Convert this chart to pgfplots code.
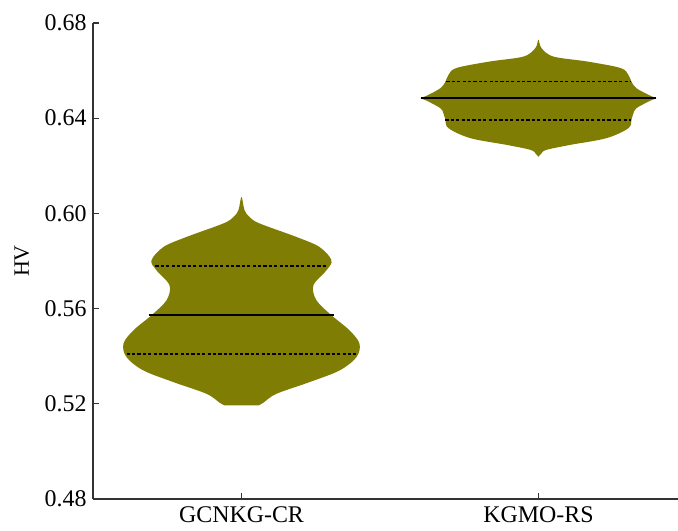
\documentclass[border=0pt]{standalone}
\usepackage{fontspec}
\setmainfont{Liberation Serif}
\usepackage{pgfplots}
\pgfplotsset{compat=1.18}
\usepackage{pgfplotstable}
\definecolor{violin}{RGB}{128,125,5}

% outline of each violin: s = side (+1 right, -1 left), w = half-width (x units), y = HV
\pgfplotstableread{
y s w
0.5193 1 0.0572
0.5205 1 0.0741
0.5242 1 0.1178
0.5291 1 0.2290
0.5340 1 0.3300
0.5396 1 0.3872
0.5453 1 0.3973
0.5509 1 0.3636
0.5572 1 0.3030
0.5635 1 0.2525
0.5698 1 0.2424
0.5761 1 0.2862
0.5803 1 0.3030
0.5859 1 0.2626
0.5901 1 0.1852
0.5958 1 0.0606
0.5985 1 0.0269
0.6014 1 0.0101
0.6070 1 0.0000
0.6014 -1 0.0101
0.5985 -1 0.0269
0.5958 -1 0.0606
0.5901 -1 0.1852
0.5859 -1 0.2626
0.5803 -1 0.3030
0.5761 -1 0.2862
0.5698 -1 0.2424
0.5635 -1 0.2525
0.5572 -1 0.3030
0.5509 -1 0.3636
0.5453 -1 0.3973
0.5396 -1 0.3872
0.5340 -1 0.3300
0.5291 -1 0.2290
0.5242 -1 0.1178
0.5205 -1 0.0741
0.5193 -1 0.0572
}\vA

\pgfplotstableread{
y s w
0.6238 1 0.0000
0.6252 1 0.0101
0.6267 1 0.0269
0.6288 1 0.1077
0.6316 1 0.2290
0.6358 1 0.3030
0.6393 1 0.3131
0.6420 1 0.3199
0.6442 1 0.3300
0.6474 1 0.3771
0.6484 1 0.3973
0.6494 1 0.3771
0.6526 1 0.3300
0.6554 1 0.3131
0.6582 1 0.3030
0.6611 1 0.2761
0.6638 1 0.1650
0.6659 1 0.0505
0.6695 1 0.0101
0.6730 1 0.0000
0.6695 -1 0.0101
0.6659 -1 0.0505
0.6638 -1 0.1650
0.6611 -1 0.2761
0.6582 -1 0.3030
0.6554 -1 0.3131
0.6526 -1 0.3300
0.6494 -1 0.3771
0.6484 -1 0.3973
0.6474 -1 0.3771
0.6442 -1 0.3300
0.6420 -1 0.3199
0.6393 -1 0.3131
0.6358 -1 0.3030
0.6316 -1 0.2290
0.6288 -1 0.1077
0.6267 -1 0.0269
0.6252 -1 0.0101
}\vB

\begin{document}
\begin{tikzpicture}
\begin{axis}[
  at={(0,0)}, anchor=origin,
  scale only axis,
  width=585bp, height=476bp,
  xmin=0.5, xmax=2.47,
  ymin=0.48, ymax=0.68,
  axis x line*=bottom, axis y line*=left,
  axis line style={black!80, line width=1.1bp},
  tick style={black!80, line width=1.1bp},
  tick align=inside,
  major tick length=6bp,
  xtick={1,2},
  xticklabels={GCNKG-CR,KGMO-RS},
  ytick={0.48,0.52,0.56,0.60,0.64,0.68},
  yticklabel style={/pgf/number format/fixed, /pgf/number format/fixed zerofill, /pgf/number format/precision=2, xshift=-3bp},
  /pgf/number format/assume math mode=true,
  ticklabel style={font=\fontsize{24}{26}\selectfont},
  xticklabel style={yshift=-4bp},
  ylabel={HV},
  ylabel style={font=\fontsize{22}{24}\selectfont, at={(axis description cs:-0.1214,0.5)}, anchor=center},
  clip=false,
]
% violins
\addplot[fill=violin, draw=none, smooth, tension=0.55] table[x expr=1+\thisrow{s}*\thisrow{w}, y=y] {\vA} -- cycle;
\addplot[fill=violin, draw=none, smooth, tension=0.55] table[x expr=2+\thisrow{s}*\thisrow{w}, y=y] {\vB} -- cycle;
% medians
\addplot[black, line width=1.8bp] coordinates {(0.69,0.5572) (1.31,0.5572)};
\addplot[black, line width=1.8bp] coordinates {(1.603,0.6484) (2.397,0.6484)};
% quartiles
\addplot[black, line width=1.9bp, dash pattern=on 3.2bp off 2.2bp] coordinates {(0.71,0.5778) (1.29,0.5778)};
\addplot[black, line width=1.9bp, dash pattern=on 3.2bp off 2.2bp] coordinates {(0.613,0.5408) (1.387,0.5408)};
\addplot[black, line width=1.9bp, dash pattern=on 3.2bp off 2.2bp] coordinates {(1.69,0.6554) (2.31,0.6554)};
\addplot[black, line width=1.9bp, dash pattern=on 3.2bp off 2.2bp] coordinates {(1.687,0.6393) (2.313,0.6393)};
\end{axis}
\pgfresetboundingbox
\path[use as bounding box] (-93bp,-32bp) rectangle (585bp,499bp);
\end{tikzpicture}
\end{document}
